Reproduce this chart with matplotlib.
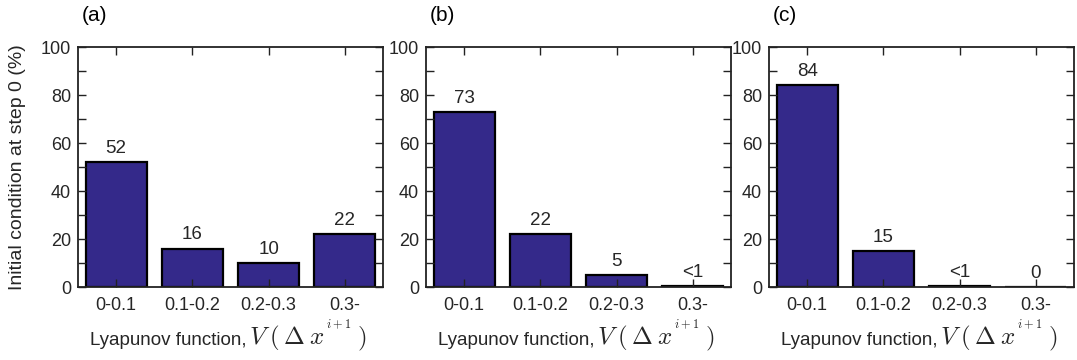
import matplotlib
matplotlib.use("Agg")
import matplotlib.pyplot as plt
from matplotlib.ticker import MultipleLocator

plt.rcParams['font.family'] = ['Liberation Sans', 'DejaVu Sans']
plt.rcParams['mathtext.fontset'] = 'cm'

categories = ["0-0.1", "0.1-0.2", "0.2-0.3", "0.3-"]
panel_names = ["(a)", "(b)", "(c)"]
values_a = [52, 16, 10, 22]
values_b = [73, 22, 5, 0.3]
values_c = [84, 15, 0.5, 0.1]
labels_a = ["52", "16", "10", "22"]
labels_b = ["73", "22", "5", "<1"]
labels_c = ["84", "15", "<1", "0"]

all_values = [values_a, values_b, values_c]
all_labels = [labels_a, labels_b, labels_c]

bar_color = "#34298a"
text_color = "#262626"
fig = plt.figure(figsize=(10.77, 3.6), dpi=100)
W, H = 1077.0, 360.0
lefts = [78, 426, 769]
ax_w = 305
top, bottom = 47, 287

for i in range(3):
    ax = fig.add_axes([lefts[i] / W, 1 - bottom / H, ax_w / W, (bottom - top) / H])
    x = list(range(1, 5))
    ax.bar(x, all_values[i], width=0.8, color=bar_color, edgecolor="black", linewidth=1.6)
    for xi, v, lab in zip(x, all_values[i], all_labels[i]):
        ax.text(xi, v + 3.8, lab, ha="center", va="baseline", fontsize=13.5, color=text_color)
    ax.set_xlim(0.5, 4.5)
    ax.set_ylim(0, 100)
    ax.set_xticks(x)
    ax.set_xticklabels(categories)
    ax.set_yticks([0, 20, 40, 60, 80, 100])
    ax.yaxis.set_minor_locator(MultipleLocator(10))
    ax.tick_params(axis="both", which="both", direction="in", top=True, right=True,
                   labelsize=13, width=1.0, color="#222222", labelcolor=text_color)
    ax.tick_params(axis="both", which="major", length=6)
    ax.tick_params(axis="x", which="major", pad=7)
    ax.tick_params(axis="y", which="major", pad=5)
    ax.tick_params(axis="y", which="minor", length=6)
    for s in ax.spines.values():
        s.set_linewidth(1.3)
        s.set_color("#222222")
    # x label: plain text part and math part
    ax.text(0.552, -0.24, "Lyapunov function,", transform=ax.transAxes, fontsize=13.5,
            ha="right", va="baseline", color=text_color)
    ax.text(0.562, -0.24, r"$V\;(\,\Delta\;x^{^{i+1}}\,)$", transform=ax.transAxes,
            fontsize=18, ha="left", va="baseline", color=text_color)
    ax.text(0.013, 1.108, panel_names[i], transform=ax.transAxes, fontsize=15,
            ha="left", va="baseline", color="black")
    if i == 0:
        ax.set_ylabel("Initial condition at step 0 (%)", fontsize=14, color=text_color)
        ax.yaxis.set_label_coords(-0.17, 0.5)

fig.savefig("out.png", dpi=100)
